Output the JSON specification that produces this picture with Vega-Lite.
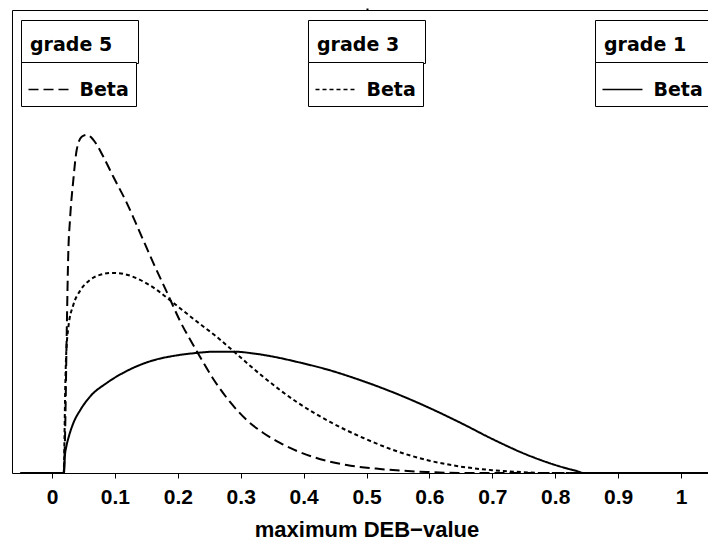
{
  "$schema": "https://vega.github.io/schema/vega-lite/v6.json",
  "autosize": {"type": "none"},
  "padding": {"left": 12, "top": 10, "right": 0, "bottom": 70},
  "width": 696,
  "height": 463,
  "background": "white",
  "datasets": {
    "g5": [
      {"x": -0.05, "density": 0},
      {"x": 0.0185, "density": 0},
      {"x": 0.0207, "density": 0.563},
      {"x": 0.0234, "density": 2.188},
      {"x": 0.0259, "density": 3.438},
      {"x": 0.0286, "density": 3.953},
      {"x": 0.0339, "density": 4.578},
      {"x": 0.0393, "density": 5.047},
      {"x": 0.0472, "density": 5.25},
      {"x": 0.0552, "density": 5.281},
      {"x": 0.0657, "density": 5.203},
      {"x": 0.0816, "density": 4.938},
      {"x": 0.0975, "density": 4.625},
      {"x": 0.1188, "density": 4.219},
      {"x": 0.14, "density": 3.75},
      {"x": 0.161, "density": 3.281},
      {"x": 0.1824, "density": 2.828},
      {"x": 0.2035, "density": 2.375},
      {"x": 0.23, "density": 1.906},
      {"x": 0.2564, "density": 1.469},
      {"x": 0.283, "density": 1.109},
      {"x": 0.3095, "density": 0.828},
      {"x": 0.336, "density": 0.625},
      {"x": 0.3625, "density": 0.469},
      {"x": 0.4154, "density": 0.25},
      {"x": 0.4685, "density": 0.125},
      {"x": 0.5215, "density": 0.0625},
      {"x": 0.5957, "density": 0.016},
      {"x": 0.65, "density": 0},
      {"x": 1.05, "density": 0}
    ],
    "g3": [
      {"x": -0.05, "density": 0},
      {"x": 0.0185, "density": 0},
      {"x": 0.0211, "density": 1.344},
      {"x": 0.0223, "density": 1.797},
      {"x": 0.0259, "density": 2.266},
      {"x": 0.0339, "density": 2.625},
      {"x": 0.0445, "density": 2.844},
      {"x": 0.0604, "density": 3.016},
      {"x": 0.0763, "density": 3.094},
      {"x": 0.0949, "density": 3.125},
      {"x": 0.1134, "density": 3.109},
      {"x": 0.14, "density": 3.016},
      {"x": 0.1665, "density": 2.859},
      {"x": 0.1929, "density": 2.656},
      {"x": 0.233, "density": 2.344},
      {"x": 0.26, "density": 2.141},
      {"x": 0.288, "density": 1.906},
      {"x": 0.336, "density": 1.5},
      {"x": 0.389, "density": 1.109},
      {"x": 0.442, "density": 0.797},
      {"x": 0.495, "density": 0.547},
      {"x": 0.5426, "density": 0.359},
      {"x": 0.5957, "density": 0.203},
      {"x": 0.6486, "density": 0.102},
      {"x": 0.7, "density": 0.044},
      {"x": 0.75, "density": 0.0125},
      {"x": 0.78, "density": 0},
      {"x": 1.05, "density": 0}
    ],
    "g1": [
      {"x": -0.05, "density": 0},
      {"x": 0.019, "density": 0},
      {"x": 0.0205, "density": 0.266},
      {"x": 0.023, "density": 0.422},
      {"x": 0.027, "density": 0.578},
      {"x": 0.034, "density": 0.781},
      {"x": 0.045, "density": 0.984},
      {"x": 0.06, "density": 1.188},
      {"x": 0.087, "density": 1.406},
      {"x": 0.113, "density": 1.563},
      {"x": 0.14, "density": 1.688},
      {"x": 0.166, "density": 1.773},
      {"x": 0.193, "density": 1.828},
      {"x": 0.23, "density": 1.875},
      {"x": 0.26, "density": 1.895},
      {"x": 0.29, "density": 1.895},
      {"x": 0.32, "density": 1.867},
      {"x": 0.35, "density": 1.82},
      {"x": 0.39, "density": 1.734},
      {"x": 0.44, "density": 1.609},
      {"x": 0.48, "density": 1.484},
      {"x": 0.52, "density": 1.344},
      {"x": 0.56, "density": 1.188},
      {"x": 0.6, "density": 1.016},
      {"x": 0.65, "density": 0.781},
      {"x": 0.7, "density": 0.531},
      {"x": 0.75, "density": 0.305},
      {"x": 0.8, "density": 0.125},
      {"x": 0.82, "density": 0.067},
      {"x": 0.835, "density": 0.028},
      {"x": 0.845, "density": 0},
      {"x": 1.05, "density": 0}
    ]
  },
  "layer": [
    {
      "data": {"name": "g5"},
      "mark": {"type": "line", "strokeWidth": 2, "interpolate": "monotone", "clip": true},
      "encoding": {
        "x": {
          "field": "x", "type": "quantitative",
          "scale": {"domain": [-0.0636, 1.0429], "nice": false, "zero": false},
          "axis": {
            "orient": "bottom",
            "title": "maximum DEB−value",
            "values": [0, 0.1, 0.2, 0.3, 0.4, 0.5, 0.6, 0.7, 0.8, 0.9, 1],
            "format": "~g",
            "grid": false,
            "domainColor": "black", "domainWidth": 1,
            "tickColor": "black", "tickSize": 5, "tickWidth": 1,
            "labelColor": "black", "labelFont": "Liberation Sans", "labelFontSize": 21, "labelFontWeight": "bold", "labelPadding": 8,
            "titleColor": "black", "titleFont": "Liberation Sans", "titleFontSize": 22, "titleFontWeight": "bold", "titlePadding": 12,
            "titleX": 354.5, "titleAnchor": "middle"
          }
        },
        "y": {
          "field": "density", "type": "quantitative",
          "scale": {"domain": [0, 7.23], "nice": false},
          "axis": {"orient": "left", "title": null, "labels": false, "ticks": false, "grid": false, "domainColor": "black", "domainWidth": 1}
        },
        "stroke": {
          "datum": "grade 5", "type": "nominal",
          "scale": {"domain": ["grade 5"], "range": ["black"]},
          "legend": {
            "legendX": 9, "legendY": 10, "padding": 0,
            "symbolType": "circle", "symbolSize": 1764, "symbolOpacity": 0,
            "symbolOffset": 74, "labelOffset": -109,
            "encode": {"labels": {"update": {"dy": {"value": 3}}}}
          }
        },
        "strokeDash": {
          "datum": "Beta", "type": "nominal",
          "scale": {"domain": ["Beta"], "range": [[10, 5]]},
          "legend": {
            "legendX": 9, "legendY": 52, "padding": 6.5,
            "symbolType": "stroke", "symbolSize": 1600, "symbolStrokeWidth": 1.5,
            "symbolOffset": 0, "labelOffset": 10
          }
        }
      }
    },
    {
      "data": {"name": "g3"},
      "mark": {"type": "line", "strokeWidth": 2, "interpolate": "monotone", "clip": true},
      "encoding": {
        "x": {
          "field": "x", "type": "quantitative",
          "axis": {
            "orient": "top", "title": null, "labels": false,
            "values": [0.5], "grid": false,
            "domainColor": "black", "domainWidth": 1,
            "tickColor": "black", "tickSize": 2, "tickWidth": 2
          }
        },
        "y": {"field": "density", "type": "quantitative", "axis": null},
        "stroke": {
          "datum": "grade 3", "type": "nominal",
          "scale": {"domain": ["grade 3"], "range": ["black"]},
          "legend": {
            "legendX": 296, "legendY": 10, "padding": 0,
            "symbolType": "circle", "symbolSize": 1764, "symbolOpacity": 0,
            "symbolOffset": 74, "labelOffset": -109,
            "encode": {"labels": {"update": {"dy": {"value": 3}}}}
          }
        },
        "strokeDash": {
          "datum": "Beta", "type": "nominal",
          "scale": {"domain": ["Beta"], "range": [[4, 3]]},
          "legend": {
            "legendX": 296, "legendY": 52, "padding": 6.5,
            "symbolType": "stroke", "symbolSize": 1600, "symbolStrokeWidth": 1.5,
            "symbolOffset": 0, "labelOffset": 10
          }
        }
      }
    },
    {
      "data": {"name": "g1"},
      "mark": {"type": "line", "strokeWidth": 2, "interpolate": "monotone", "clip": true},
      "encoding": {
        "x": {"field": "x", "type": "quantitative", "axis": null},
        "y": {"field": "density", "type": "quantitative", "axis": null},
        "stroke": {
          "datum": "grade 1", "type": "nominal",
          "scale": {"domain": ["grade 1"], "range": ["black"]},
          "legend": {
            "legendX": 583, "legendY": 10, "padding": 0,
            "symbolType": "circle", "symbolSize": 1764, "symbolOpacity": 0,
            "symbolOffset": 74, "labelOffset": -109,
            "encode": {"labels": {"update": {"dy": {"value": 3}}}}
          }
        },
        "strokeDash": {
          "datum": "Beta", "type": "nominal",
          "scale": {"domain": ["Beta"], "range": [[1, 0]]},
          "legend": {
            "legendX": 583, "legendY": 52, "padding": 6.5,
            "symbolType": "stroke", "symbolSize": 1600, "symbolStrokeWidth": 1.5,
            "symbolOffset": 0, "labelOffset": 10
          }
        }
      }
    }
  ],
  "resolve": {
    "scale": {"stroke": "independent", "strokeDash": "independent"},
    "axis": {"x": "independent", "y": "independent"},
    "legend": {"stroke": "independent", "strokeDash": "independent"}
  },
  "config": {
    "view": {"stroke": null},
    "legend": {
      "orient": "none",
      "title": null,
      "strokeColor": "black",
      "fillColor": "white",
      "labelFont": "DejaVu Sans", "labelFontSize": 19, "labelFontWeight": "bold", "labelColor": "black",
      "labelLimit": 300,
      "symbolStrokeColor": "black"
    }
  }
}
